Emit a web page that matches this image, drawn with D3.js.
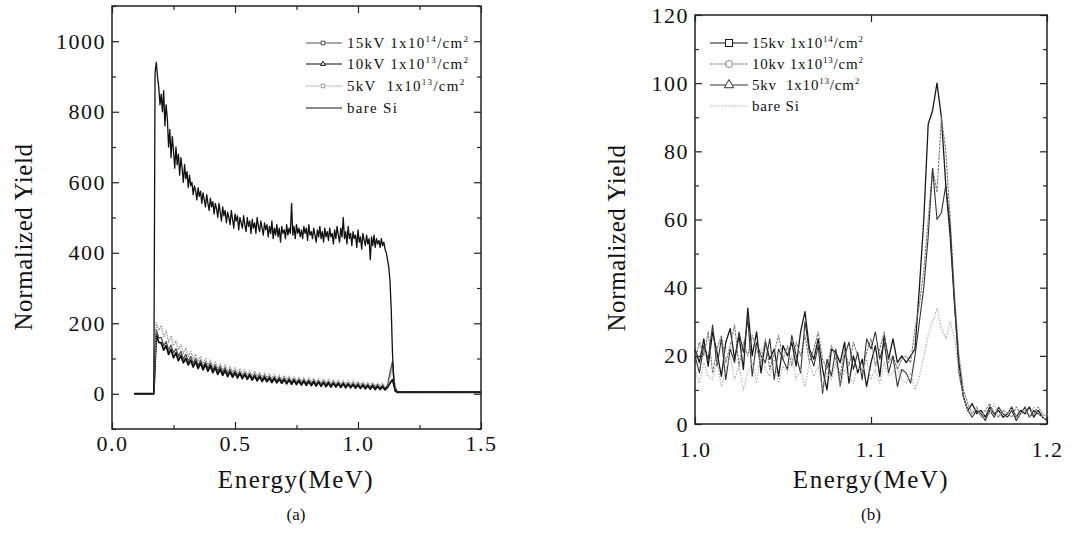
<!DOCTYPE html>
<html>
<head>
<meta charset="utf-8">
<script src="https://cdn.jsdelivr.net/npm/d3@7"></script>
<style>
  body { margin: 0; background: #fff; }
  svg { font-family: "Liberation Serif", "Times New Roman", serif; }
  text { white-space: pre; }
</style>
</head>
<body>
<div class="canvas"></div>
<script>
// ---------- data: panel (a) ----------
// bare Si: channels from 0.09 MeV, 0.005 MeV wide
const bareSiStartA = 0.09;
const bareSiStepA = 0.005;
const bareSiA = [0,0,0,0,0,0,0,0,0,0,0,0,0,0,0,0,0,
  910,940,900,870,820,850,800,860,760,820,
  780,700,750,670,730,690,640,700,650,680,
  620,670,640,600,650,610,630,585,620,590,
  600,565,590,575,550,585,560,575,540,570,
  550,530,565,540,520,555,530,545,510,540,
  525,500,540,515,490,530,505,520,485,515,
  500,480,520,495,470,510,490,505,465,500,
  485,470,505,480,460,500,475,490,455,495,
  470,485,455,500,475,460,490,470,450,485,
  465,480,445,475,455,490,440,470,450,480,
  445,470,430,475,455,465,440,480,450,470,
  455,540,450,475,440,480,455,470,445,465,
  440,475,455,470,435,480,450,460,440,470,
  450,430,465,445,475,440,460,430,470,445,
  460,435,470,445,455,425,465,440,475,450,
  430,470,445,500,440,460,425,475,440,455,
  420,460,440,450,415,465,430,445,410,455,
  435,420,450,425,440,380,445,420,450,415,
  440,425,435,415,440,420,430,410,400,380,
  360,320,240,120,40,8,
  5,5,5,5,5,5,5,5,5,5, 5,5,5,5,5,5,5,5,5,5, 5,5,5,5,5,5,5,5,5,5, 5,5,5,5,5,5,5,5,5,5,
  5,5,5,5,5,5,5,5,5,5, 5,5,5,5,5,5,5,5,5,5, 5,5,5,5,5,5,5,5,5,5];

// implanted samples: channels from 0.09 MeV, 0.01 MeV wide
const implStartA = 0.09;
const implStepA = 0.01;

const kv15A = [0,0,0,0,0,0,0,0,0,
  182,158,160,136,148,124,138,116,128,106,
  120,98,112,92,106,86,100,80,95,76,
  90,72,87,68,82,64,78,60,74,56,
  70,53,66,51,63,48,60,46,58,44,
  56,42,54,40,52,39,50,37,48,36,
  47,35,45,33,44,32,43,31,41,30,
  40,29,39,28,38,27,37,26,36,25,
  35,24,34,23,33,22,32,22,31,21,
  30,20,30,19,29,18,28,18,27,17,
  26,16,25,15,22,60,90,20,5,5,
  5,5,5,5,5,5,5,5,5,5, 5,5,5,5,5,5,5,5,5,5, 5,5,5,5,5,5,5,5,5,5, 5,5,5];

const kv10A = [0,0,0,0,0,0,0,0,0,
  168,146,144,124,136,112,126,102,116,94,
  108,88,100,82,95,76,91,72,87,68,
  83,64,79,60,74,55,70,52,66,49,
  62,47,59,45,57,43,55,41,53,39,
  50,37,48,35,46,34,44,32,43,31,
  41,30,40,28,39,27,38,26,37,25,
  36,24,35,23,34,22,33,21,32,20,
  31,19,30,19,29,18,28,17,27,17,
  26,16,25,15,24,14,23,13,22,12,
  21,12,20,11,18,30,40,15,4,4,
  4,4,4,4,4,4,4,4,4,4, 4,4,4,4,4,4,4,4,4,4, 4,4,4,4,4,4,4,4,4,4, 4,4,4];

const kv5A = [0,0,0,0,0,0,0,0,0,
  202,180,194,160,178,146,164,136,150,124,
  140,114,130,106,120,98,112,92,106,86,
  100,82,96,76,90,72,86,68,82,64,
  78,62,74,58,71,56,68,54,66,52,
  64,50,61,48,59,46,57,44,55,43,
  53,41,52,40,50,38,49,37,47,36,
  46,35,45,34,44,33,43,32,42,31,
  41,30,40,29,39,28,38,28,37,27,
  36,26,35,25,34,24,33,23,32,22,
  31,21,30,20,26,45,70,25,6,5,
  5,5,5,5,5,5,5,5,5,5, 5,5,5,5,5,5,5,5,5,5, 5,5,5,5,5,5,5,5,5,5, 5,5,5];

// ---------- data: panel (b), channels from 1.0 MeV, 0.0025 MeV wide ----------
const startB = 1.0;
const stepB = 0.0025;

const kv15B = [22,18,25,17,27,21,14,24,28,19,26,16,34,20,27,15,24,19,22,14,23,20,24,17,
  27,33,22,19,25,16,10,22,21,18,24,12,20,15,19,11,18,23,14,26,19,25,18,20,
  18,20,22,40,60,88,92,100,90,70,55,35,18,8,4,6,3,4,2,5,3,4,2,3,5,2,4,3,5,2,4,2,1];

const kv10B = [18,24,20,27,15,22,26,18,23,29,17,24,20,26,22,18,25,16,21,26,19,23,17,24,
  20,26,18,22,27,19,16,23,19,14,22,17,24,20,15,21,25,17,22,27,18,20,16,19,
  20,18,28,35,45,60,75,68,90,80,60,38,20,10,6,3,5,2,4,6,3,2,4,3,2,5,3,4,2,3,5,3,2];

const kv5B = [20,15,23,19,29,17,25,13,22,18,27,21,31,14,24,20,18,25,13,22,19,16,26,20,
  15,30,21,17,23,9,19,14,22,11,20,24,16,21,13,25,22,27,19,24,15,20,11,16,
  15,12,20,30,40,55,75,60,62,70,58,35,15,8,4,2,4,3,1,4,2,5,3,2,4,1,3,5,2,4,3,2,1];

const bareSiB = [16,12,18,14,13,19,11,16,20,13,17,10,15,18,12,22,16,14,19,12,17,15,20,13,
  16,11,18,14,17,10,15,13,18,11,16,14,12,17,15,19,13,16,12,18,14,15,17,13,
  12,15,10,14,20,26,30,34,28,25,30,25,15,8,4,3,5,2,4,3,6,2,4,3,5,2,3,4,2,5,3,2,1];

// legend text pieces
const voltsA = ['15kV', '10kV', '5kV ', 'bare Si'];
const voltsB = ['15kv', '10kv', '5kv ', 'bare Si'];
const doseExp = ['14', '13', '13', null];

// tick values
const xMajorA = [0, 0.5, 1.0, 1.5];
const xMinorA = [0.25, 0.75, 1.25];
const yMajorA = [0, 200, 400, 600, 800, 1000];
const yMinorA = [-100, 100, 300, 500, 700, 900, 1100];
const xMajorB = [1.0, 1.1, 1.2];
const yMajorB = [0, 20, 40, 60, 80, 100, 120];
const yMinorB = [10, 30, 50, 70, 90, 110];

// ---------- drawing ----------
const svg = d3.select('.canvas')
  .append('svg')
    .attr('width', 1072)
    .attr('height', 545);

const toPoints = (vals, start, step) => vals.map((v, i) => [start + i * step, v]);

function drawPanel(p) {
  const w = p.right - p.left;
  const h = p.bottom - p.top;
  const g = svg.append('g').attr('transform', `translate(${p.left},${p.top})`);

  const x = d3.scaleLinear().domain(p.xDomain).range([0, w]);
  const y = d3.scaleLinear().domain(p.yDomain).range([h, 0]);

  // inward ticks on all four sides
  const axes = [
    [d3.axisBottom(x).tickValues(p.xMajor).tickSize(-7).tickPadding(p.xPad).tickFormat(d3.format('.1f')), `translate(0,${h})`],
    [d3.axisTop(x).tickValues(p.xMajor).tickSize(-7).tickFormat(''), 'translate(0,0)'],
    [d3.axisLeft(y).tickValues(p.yMajor).tickSize(-7).tickPadding(6).tickFormat(d3.format('d')), 'translate(0,0)'],
    [d3.axisRight(y).tickValues(p.yMajor).tickSize(-7).tickFormat(''), `translate(${w},0)`]
  ];
  if (p.xMinor) {
    axes.push([d3.axisBottom(x).tickValues(p.xMinor).tickSize(-4).tickFormat(''), `translate(0,${h})`]);
    axes.push([d3.axisTop(x).tickValues(p.xMinor).tickSize(-4).tickFormat(''), 'translate(0,0)']);
  }
  axes.push([d3.axisLeft(y).tickValues(p.yMinor).tickSize(-4).tickFormat(''), 'translate(0,0)']);
  axes.push([d3.axisRight(y).tickValues(p.yMinor).tickSize(-4).tickFormat(''), `translate(${w},0)`]);

  axes.forEach(([ax, tr]) => {
    const a = g.append('g').attr('transform', tr).call(ax);
    a.select('.domain').remove();
    a.selectAll('line').attr('stroke', '#222').attr('stroke-width', 1.2);
    a.selectAll('text')
      .attr('font-family', '"Liberation Serif", serif')
      .attr('font-size', 22)
      .attr('letter-spacing', 1.5)
      .attr('fill', '#111');
  });

  // data lines
  const clipId = 'clip' + p.name;
  g.append('clipPath').attr('id', clipId)
    .append('rect').attr('width', w).attr('height', h);

  const line = d3.line().x(d => x(d[0])).y(d => y(d[1]));
  g.append('g').attr('clip-path', `url(#${clipId})`)
    .selectAll('path')
    .data(p.series)
    .join('path')
      .attr('d', s => line(toPoints(s.values, s.start, s.step)))
      .attr('fill', 'none')
      .attr('stroke', s => s.color)
      .attr('stroke-width', s => s.width)
      .attr('stroke-dasharray', s => s.dash || null)
      .attr('stroke-linejoin', 'round');

  // frame
  g.append('rect')
    .attr('width', w).attr('height', h)
    .attr('fill', 'none')
    .attr('stroke', '#222')
    .attr('stroke-width', 1.5);

  // legend
  const lg = svg.append('g');
  p.series.forEach((s, i) => {
    const ly = p.legend.rows[i];
    lg.append('line')
      .attr('x1', p.legend.x1).attr('x2', p.legend.x2)
      .attr('y1', ly).attr('y2', ly)
      .attr('stroke', s.color)
      .attr('stroke-width', 1.1)
      .attr('stroke-dasharray', s.dash || null);
    const mx = p.legend.mx;
    const r = p.legend.markerSize;
    if (s.marker === 'square') {
      lg.append('rect').attr('x', mx - r).attr('y', ly - r).attr('width', 2 * r).attr('height', 2 * r)
        .attr('fill', '#fff').attr('stroke', s.color).attr('stroke-width', 1);
    } else if (s.marker === 'circle') {
      lg.append('circle').attr('cx', mx).attr('cy', ly).attr('r', r)
        .attr('fill', '#fff').attr('stroke', s.color).attr('stroke-width', 1);
    } else if (s.marker === 'triangle') {
      lg.append('path').attr('d', d3.symbol(d3.symbolTriangle, r * r * 3.2)())
        .attr('transform', `translate(${mx},${ly})`)
        .attr('fill', '#fff').attr('stroke', s.color).attr('stroke-width', 1);
    }
    const t = lg.append('text')
      .attr('x', p.legend.tx).attr('y', ly + 5)
      .attr('font-size', p.legend.fontSize)
      .attr('letter-spacing', p.legend.spacing)
      .attr('fill', '#111');
    if (doseExp[i]) {
      t.append('tspan').text(p.legend.labels[i] + ' 1x10');
      t.append('tspan').attr('dy', -6).attr('font-size', 9).text(doseExp[i]);
      t.append('tspan').attr('dy', 6).text('/cm');
      t.append('tspan').attr('dy', -6).attr('font-size', 9).text('2');
    } else {
      t.text(p.legend.labels[i]);
    }
  });

  // axis titles
  svg.append('text')
    .attr('transform', `translate(${p.yTitleX},${p.yTitleY}) rotate(-90)`)
    .attr('text-anchor', 'middle')
    .attr('font-size', 25)
    .attr('letter-spacing', 0.6)
    .attr('fill', '#111')
    .text('Normalized Yield');

  svg.append('text')
    .attr('x', p.xTitleX).attr('y', p.xTitleY)
    .attr('text-anchor', 'middle')
    .attr('font-size', 25)
    .attr('letter-spacing', 1.5)
    .attr('fill', '#111')
    .text('Energy(MeV)');

  svg.append('text')
    .attr('x', p.xTitleX).attr('y', p.capY)
    .attr('text-anchor', 'middle')
    .attr('font-size', 17)
    .attr('fill', '#111')
    .text(p.caption);
}

drawPanel({
  name: 'A',
  left: 112, right: 481, top: 6, bottom: 429,
  xDomain: [0, 1.5], yDomain: [-100, 1100],
  xMajor: xMajorA, xMinor: xMinorA, yMajor: yMajorA, yMinor: yMinorA, xPad: 6,
  series: [
    { values: kv15A, start: implStartA, step: implStepA, color: '#555', width: 1.4, marker: 'square' },
    { values: kv10A, start: implStartA, step: implStepA, color: '#111', width: 1.8, marker: 'triangle' },
    { values: kv5A, start: implStartA, step: implStepA, color: '#999', width: 1.3, dash: '1.5,1', marker: 'square' },
    { values: bareSiA, start: bareSiStartA, step: bareSiStepA, color: '#111', width: 1.3, marker: null }
  ],
  legend: { x1: 306, x2: 342, mx: 323, tx: 347, rows: [43, 64, 86, 108],
            markerSize: 1.8, fontSize: 15, spacing: 1.3, labels: voltsA },
  yTitleX: 32, yTitleY: 237,
  xTitleX: 296, xTitleY: 488, capY: 520, caption: '(a)'
});

drawPanel({
  name: 'B',
  left: 695, right: 1047, top: 15, bottom: 424,
  xDomain: [1.0, 1.2], yDomain: [0, 120],
  xMajor: xMajorB, xMinor: null, yMajor: yMajorB, yMinor: yMinorB, xPad: 17,
  series: [
    { values: kv15B, start: startB, step: stepB, color: '#1a1a1a', width: 1.3, marker: 'square' },
    { values: kv10B, start: startB, step: stepB, color: '#777', width: 1.1, dash: '2.5,1', marker: 'circle' },
    { values: kv5B, start: startB, step: stepB, color: '#333', width: 1.1, marker: 'triangle' },
    { values: bareSiB, start: startB, step: stepB, color: '#aaa', width: 1.1, dash: '1.5,1.5', marker: null }
  ],
  legend: { x1: 710, x2: 748, mx: 729, tx: 752, rows: [43, 64, 85, 106],
            markerSize: 3.5, fontSize: 15, spacing: 0.8, labels: voltsB },
  yTitleX: 625, yTitleY: 238,
  xTitleX: 871, xTitleY: 488, capY: 520, caption: '(b)'
});
</script>
</body>
</html>
